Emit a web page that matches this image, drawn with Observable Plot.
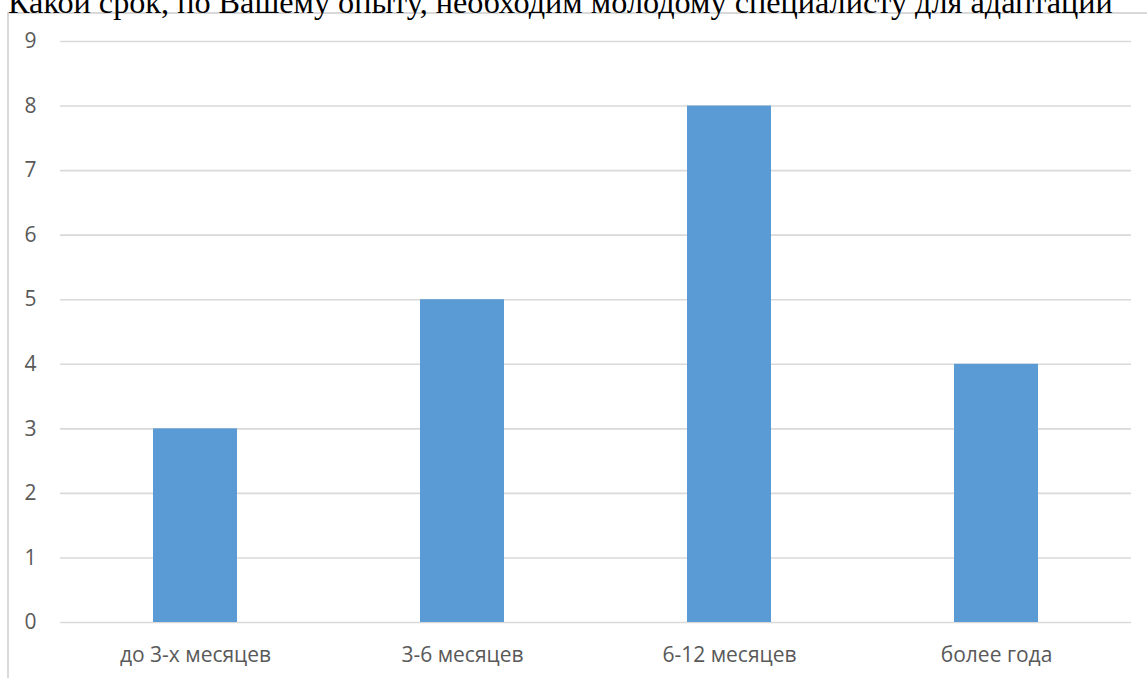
<!DOCTYPE html>
<html>
<head>
<meta charset="utf-8">
<script src="https://cdn.jsdelivr.net/npm/d3@7"></script>
<script src="https://cdn.jsdelivr.net/npm/@observablehq/plot@0.6"></script>
<style>
  html, body { margin: 0; padding: 0; background: #fff; width: 1147px; height: 678px; overflow: hidden; position: relative; }
  #frame { position: absolute; left: 7px; top: 12px; width: 1300px; height: 800px; border-left: 2px solid #d9d9d9; border-top: 2px solid #d9d9d9; box-sizing: border-box; }
  #title { position: absolute; left: 8px; top: -10px; font-family: "Liberation Serif", "Times New Roman", serif; font-size: 24px; line-height: 24px; color: #000; white-space: nowrap; }
  #chart { position: absolute; left: 0; top: 0; }
</style>
</head>
<body>
<div id="frame"></div>
<div id="title"></div>
<div id="chart"></div>
<script>
const titleText = "Какой срок, по Вашему опыту, необходим молодому специалисту для адаптации";
const categories = ["до 3-х месяцев", "3-6 месяцев", "6-12 месяцев", "более года"];
const values = [3, 5, 8, 4];
const yTicks = [0, 1, 2, 3, 4, 5, 6, 7, 8, 9];

const data = categories.map((c, i) => ({category: c, value: values[i]}));

const titleEl = document.getElementById("title");
titleEl.textContent = titleText;
try {
  const ctx = document.createElement("canvas").getContext("2d");
  ctx.font = '24px "Liberation Serif"';
  const w = ctx.measureText(titleText).width;
  if (w > 0) titleEl.style.fontSize = (24 * 1105 / w).toFixed(2) + "px";
} catch (e) {}

const font = '"Open Sans", "Noto Sans", sans-serif';
const plot = Plot.plot({
  width: 1147,
  height: 678,
  marginLeft: 60,
  marginRight: 16,
  marginTop: 41,
  marginBottom: 56,
  style: {fontFamily: font, fontSize: "21px", color: "#595959", background: "transparent", overflow: "visible"},
  x: {domain: categories, type: "band", paddingInner: 0.686, paddingOuter: 0.343, label: null},
  y: {domain: [0, 9], ticks: yTicks, label: null},
  marks: [
    Plot.gridY(yTicks, {stroke: "#d9d9d9", strokeOpacity: 1, strokeWidth: 1.6}),
    Plot.barY(data, {x: "category", y: "value", fill: "#5b9bd5"}),
    Plot.axisY(yTicks, {tickSize: 0, tickPadding: 24, tickFormat: "d", fill: "#595959", fontSize: 21, label: null}),
    Plot.axisX({tickSize: 0, tickPadding: 25, fill: "#595959", fontSize: 21, label: null})
  ]
});
document.getElementById("chart").appendChild(plot);
</script>
</body>
</html>
